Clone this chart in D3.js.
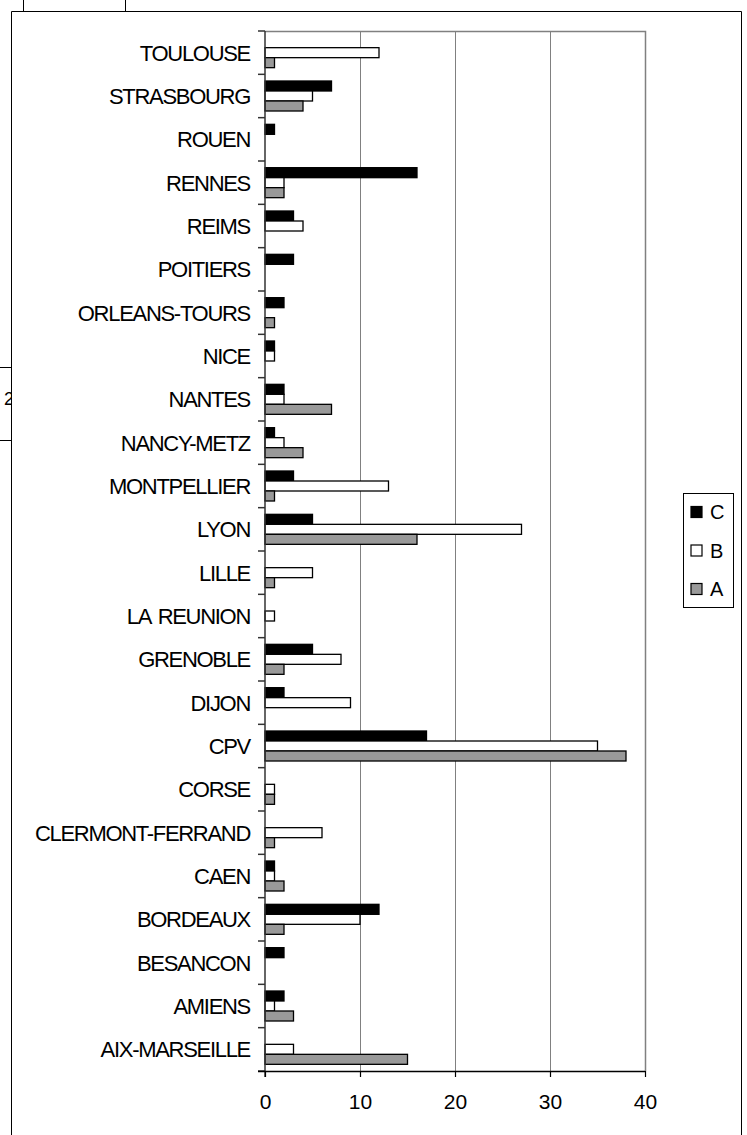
<!DOCTYPE html>
<html><head><meta charset="utf-8">
<script src="https://cdn.jsdelivr.net/npm/d3@7"></script>
<style>html,body{margin:0;padding:0;background:#fff;}svg{display:block;}</style>
</head><body>
<script>
const categories = ["AIX-MARSEILLE","AMIENS","BESANCON","BORDEAUX","CAEN","CLERMONT-FERRAND","CORSE","CPV","DIJON","GRENOBLE","LA REUNION","LILLE","LYON","MONTPELLIER","NANCY-METZ","NANTES","NICE","ORLEANS-TOURS","POITIERS","REIMS","RENNES","ROUEN","STRASBOURG","TOULOUSE"];
const seriesNames = ["C","B","A"];
const valuesC = [0,2,2,12,1,0,0,17,2,5,0,0,5,3,1,2,1,2,3,3,16,1,7,0];
const valuesB = [3,1,0,10,1,6,1,35,9,8,1,5,27,13,2,2,1,0,0,4,2,0,5,12];
const valuesA = [15,3,0,2,2,1,1,38,0,2,0,1,16,1,4,7,0,1,0,0,2,0,4,1];
const xTicks = [0,10,20,30,40];
const colors = {C:"#000000", B:"#ffffff", A:"#999999"};
const seriesValues = {C: valuesC, B: valuesB, A: valuesA};

const W = 747, H = 1135;
const svg = d3.select("body").append("svg").attr("width", W).attr("height", H);
const font = "'Liberation Sans', Arial, sans-serif";

// artifacts / frames
svg.append("rect").attr("x",0).attr("y",0).attr("width",W).attr("height",H).attr("fill","#fff");
const fr = svg.append("g").attr("stroke","#000").attr("stroke-width",1).attr("fill","none");
fr.append("line").attr("x1",23.5).attr("y1",0).attr("x2",23.5).attr("y2",11);
fr.append("line").attr("x1",125.5).attr("y1",0).attr("x2",125.5).attr("y2",11);
fr.append("line").attr("x1",0).attr("y1",367.5).attr("x2",11).attr("y2",367.5);
fr.append("line").attr("x1",0).attr("y1",440.5).attr("x2",11).attr("y2",440.5);
svg.append("clipPath").attr("id","cl").append("rect").attr("x",0).attr("y",360).attr("width",11).attr("height",90);
svg.append("text").attr("clip-path","url(#cl)").attr("x",4).attr("y",405).attr("font-family",font).attr("font-size",18).text("2");
fr.append("path").attr("d","M11.5,1135 V11.5 H741.5 V1135");

const m = {left:265, right:645, top:31, bottom:1071};
const x = d3.scaleLinear().domain([0,40]).range([m.left, m.right]);
const y = d3.scaleBand().domain(categories.slice().reverse()).range([m.top, m.bottom]).paddingInner(0).paddingOuter(0);
const groupH = 30;
const ys = d3.scaleBand().domain(seriesNames).range([0, groupH]);

// gridlines
svg.append("g").selectAll("line").data(xTicks.slice(1,-1)).join("line")
  .attr("x1",d=>Math.round(x(d))+0.5).attr("x2",d=>Math.round(x(d))+0.5)
  .attr("y1",m.top).attr("y2",m.bottom).attr("stroke","#808080").attr("stroke-width",1);
// plot frame top/right
svg.append("path").attr("d",`M${m.left},${m.top+0.5} H${m.right+0.5} V${m.bottom}`)
  .attr("fill","none").attr("stroke","#808080").attr("stroke-width",1.5);

// bars
const flat = [];
categories.forEach((c,i)=>seriesNames.forEach(s=>{ if(seriesValues[s][i]>0) flat.push({c, s, v:seriesValues[s][i]}); }));
svg.append("g").selectAll("rect").data(flat).join("rect")
  .attr("x", x(0))
  .attr("y", d => y(d.c) + (y.bandwidth()-groupH)/2 + ys(d.s))
  .attr("width", d => x(d.v)-x(0))
  .attr("height", ys.bandwidth())
  .attr("fill", d => colors[d.s]).attr("stroke","#000").attr("stroke-width",1.3);

// y axis
const yAxisG = svg.append("g");
yAxisG.append("line").attr("x1",m.left).attr("x2",m.left).attr("y1",m.top).attr("y2",m.bottom+6).attr("stroke","#333").attr("stroke-width",1.5);
yAxisG.selectAll("line.t").data(d3.range(categories.length+1)).join("line").attr("class","t")
  .attr("x1",m.left-7).attr("x2",m.left).attr("y1",i=>m.top+i*y.step()).attr("y2",i=>m.top+i*y.step())
  .attr("stroke","#333").attr("stroke-width",1.5);
yAxisG.selectAll("text").data(categories).join("text")
  .attr("x", m.left-15).attr("y", d=>y(d)+y.bandwidth()/2).attr("dy","0.36em")
  .attr("text-anchor","end").attr("font-family",font).attr("font-size",22)
  .attr("letter-spacing","-1.3px").attr("word-spacing","3px").attr("fill","#000").text(d=>d);

// x axis
const xAxis = d3.axisBottom(x).tickValues(xTicks).tickSize(6).tickPadding(17);
const xg = svg.append("g").attr("transform",`translate(0,${m.bottom})`).call(xAxis);
xg.select(".domain").attr("stroke","#000").attr("stroke-width",1.5).attr("d",`M${m.left-7},0.5H${m.right}`);
xg.selectAll(".tick line").attr("stroke","#000").attr("stroke-width",1.2);
xg.selectAll(".tick text").attr("font-family",font).attr("font-size",21).attr("fill","#000");

// legend
const lg = svg.append("g");
lg.append("rect").attr("x",683.5).attr("y",493.5).attr("width",50).attr("height",114).attr("fill","#fff").attr("stroke","#000").attr("stroke-width",1);
const legendY = d3.scalePoint().domain(seriesNames).range([512, 589]);
lg.selectAll("rect.s").data(seriesNames).join("rect").attr("class","s")
  .attr("x",691).attr("y",d=>legendY(d)-5.5).attr("width",11).attr("height",11)
  .attr("fill",d=>colors[d]).attr("stroke","#000").attr("stroke-width",1.2);
lg.selectAll("text").data(seriesNames).join("text")
  .attr("x",710).attr("y",d=>legendY(d)).attr("dy","0.36em")
  .attr("font-family",font).attr("font-size",20).text(d=>d);
</script>
</body></html>
